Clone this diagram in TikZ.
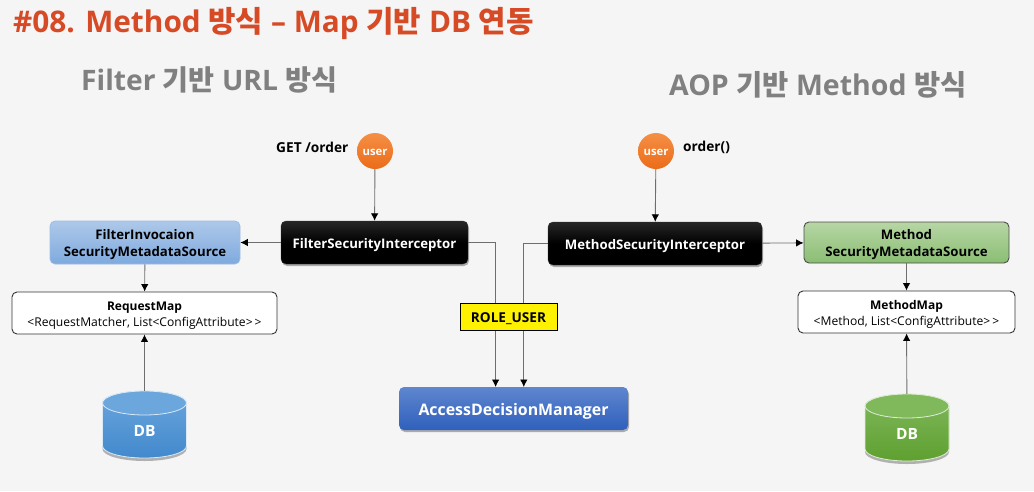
\documentclass[tikz,border=0pt]{standalone}
\usepackage{fontspec}
\setmainfont{Open Sans}
\newfontfamily\kr{Noto Sans CJK KR}
\usetikzlibrary{shadows,arrows.meta}
\definecolor{bgc}{HTML}{F5F5F5}
\definecolor{titlec}{HTML}{D64B26}
\definecolor{headc}{HTML}{808080}
\definecolor{linec}{HTML}{6E6E6E}
\definecolor{srcbt}{HTML}{ADC8E9}
\definecolor{srcbb}{HTML}{7FAADE}
\definecolor{srcbd}{HTML}{9CBDE6}
\definecolor{srcgt}{HTML}{B7D6A5}
\definecolor{srcgb}{HTML}{8ABE72}
\definecolor{mgrt}{HTML}{5F86CF}
\definecolor{mgrb}{HTML}{2F60BC}
\definecolor{usrt}{HTML}{F58F45}
\definecolor{usrb}{HTML}{EB6C18}
\definecolor{dbbt}{HTML}{6BA6DD}
\definecolor{dbbb}{HTML}{4289CC}
\definecolor{dbgt}{HTML}{80B85C}
\definecolor{dbgb}{HTML}{5FA030}
\tikzset{
  conn/.style={draw=linec,line width=0.9pt,-{Latex[length=7.5pt,width=7.5pt,color=black]}},
  shad/.style={drop shadow={shadow xshift=1pt,shadow yshift=-2pt,opacity=.3,fill=black}},
  boxbase/.style={rectangle,rounded corners=5pt,inner sep=0pt,align=center,font=\fontsize{13.2}{17}\selectfont\bfseries},
  blackbox/.style={boxbase,shad,top color=black!85!white,bottom color=black,middle color=black,text=white,draw=black!80},
  mapbox/.style={boxbase,fill=white,draw=black!80,line width=0.9pt,font=\fontsize{12}{16}\selectfont\bfseries},
  bluesrc/.style={boxbase,top color=srcbt,bottom color=srcbb,draw=srcbd,line width=0.7pt},
  greensrc/.style={boxbase,top color=srcgt,bottom color=srcgb,draw=black!70,line width=0.9pt},
  mgr/.style={boxbase,shad,top color=mgrt,bottom color=mgrb,text=white,font=\fontsize{15.9}{19}\selectfont\bfseries},
  usernode/.style={circle,inner sep=0pt,minimum size=36pt,top color=usrt,bottom color=usrb,text=white,font=\fontsize{11.3}{14}\selectfont\bfseries},
  rolenode/.style={rectangle,fill=yellow,draw=black,line width=0.9pt,inner sep=0pt,font=\fontsize{13.6}{16}\selectfont\bfseries},
  dbtext/.style={rectangle,inner sep=0pt,text=white,font=\fontsize{15.5}{18}\selectfont\bfseries},
  plain/.style={inner sep=0pt,anchor=west,font=\fontsize{13.7}{16}\selectfont\bfseries},
  titletext/.style={inner sep=0pt,anchor=west,text=titlec,font=\fontsize{29.8}{34}\selectfont\bfseries},
  headtext/.style={inner sep=0pt,anchor=west,text=headc,font=\fontsize{28.2}{32}\selectfont\bfseries},
  headtextb/.style={headtext,font=\fontsize{28.5}{32}\selectfont\bfseries},
}
\newcommand{\dn}[2][-5.3pt]{\raisebox{#1}[0pt][0pt]{\begin{tabular}{@{}c@{}}#2\end{tabular}}}
% #1 name, #2 centre x, #3 top y, #4 bottom y, #5 top colour, #6 bottom colour
\newcommand{\dbcyl}[6]{%
  \fill[black,opacity=.28] (#2-42,#3+14) -- (#2-42,#4-9) arc[start angle=180,end angle=360,x radius=42pt,y radius=12pt] -- (#2+42,#3+14) -- cycle;
  \draw[white!75!#5,line width=0.8pt,top color=#5,bottom color=#6]
    (#2-42,#3+12) -- (#2-42,#4-12) arc[start angle=180,end angle=360,x radius=42pt,y radius=12pt] -- (#2+42,#3+12) arc[start angle=0,end angle=180,x radius=42pt,y radius=12pt] -- cycle;
  \draw[white!75!#5,line width=0.8pt,fill=#5] (#2,#3+12) ellipse [x radius=42pt,y radius=12pt];
  \node[dbtext,minimum width=84pt,minimum height=#4-#3] (#1) at (#2,{(#3+#4)/2}) {};
  \node[dbtext] (#1t) at (#2,{(#3+#4)/2+6}) {DB};
}
\begin{document}
\begin{tikzpicture}[x=1pt,y=-1pt]
\useasboundingbox (0,0) rectangle (1034,491);
\fill[bgc] (0,0) rectangle (1034,491);

\node[titletext] (title) at (13,23) {\#08. Method {\kr 방식} – Map {\kr 기반} DB {\kr 연동}};
\node[headtext] (headl) at (81,80) {Filter {\kr 기반} URL {\kr 방식}};
\node[headtextb] (headr) at (669,85) {AOP {\kr 기반} Method {\kr 방식}};

\node[usernode] (ul) at (375,151) {\raisebox{-4pt}[0pt][0pt]{user}};
\node[usernode] (ur) at (656,151) {\raisebox{-4pt}[0pt][0pt]{user}};
\node[plain] (get) at (276,147.5) {GET /order};
\node[plain] (ord) at (683,147.5) {order()};

\node[blackbox,minimum width=187pt,minimum height=43pt] (fsi) at (374.5,242.5) {\dn{FilterSecurityInterceptor}};
\node[blackbox,minimum width=214pt,minimum height=43pt] (msi) at (655,243.5) {\dn{MethodSecurityInterceptor}};
\node[bluesrc,minimum width=190pt,minimum height=43pt] (fsrc) at (145,242.5) {\dn{FilterInvocaion\\SecurityMetadataSource}};
\node[greensrc,minimum width=205pt,minimum height=41pt] (msrc) at (906.5,242.5) {\dn{Method\\SecurityMetadataSource}};
\node[mapbox,minimum width=265pt,minimum height=42pt] (rmap) at (144.5,313) {\dn{RequestMap\\{\mdseries\fontsize{12.1}{16}\selectfont <RequestMatcher, List<ConfigAttribute>\,>}}};
\node[mapbox,minimum width=217pt,minimum height=42pt] (mmap) at (906.5,312) {\dn{MethodMap\\{\mdseries\fontsize{12.1}{16}\selectfont <Method, List<ConfigAttribute>\,>}}};
\node[mgr,minimum width=229pt,minimum height=43pt] (adm) at (513.5,408.5) {\dn[-7.5pt]{AccessDecisionManager}};

\dbcyl{dbl}{144.5}{391}{458}{dbbt}{dbbb}
\dbcyl{dbr}{907}{394}{461}{dbgt}{dbgb}

\coordinate (admA) at (495.6,387);
\coordinate (admB) at (523.8,387);

\draw[conn] (ul) -- (fsi);
\draw[conn] (ur) -- (msi);
\draw[conn] (fsi) -- (fsrc);
\draw[conn] (msi) -- (msrc);
\draw[conn] (fsrc) -- (rmap);
\draw[conn] (msrc) -- (mmap);
\draw[conn] (dbl) -- (rmap);
\draw[conn] (dbr) -- (mmap);
\draw[conn] (fsi.east) -| (admA);
\draw[conn] (msi.west) -| (admB);

\node[rolenode,minimum width=97pt,minimum height=27pt] (role) at (508.5,316.5) {\raisebox{-5.5pt}[0pt][0pt]{ROLE\_USER}};
\end{tikzpicture}
\end{document}
